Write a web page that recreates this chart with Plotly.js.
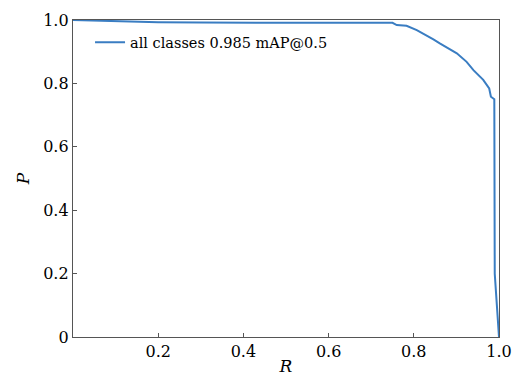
<!DOCTYPE html>
<html><head><meta charset="utf-8">
<script src="https://cdn.plot.ly/plotly-3.0.1.min.js"></script>
<style>html,body{margin:0;padding:0;background:#fff;}#chart{width:517px;height:376px;}</style>
</head><body><div id="chart"></div>
<script>
const recall = [0.0, 0.05, 0.1, 0.2, 0.3, 0.5, 0.7, 0.75, 0.76, 0.783, 0.807, 0.83, 0.846, 0.861, 0.88, 0.901, 0.924, 0.94, 0.963, 0.977, 0.981, 0.987, 0.989, 0.990, 1.0];
const precision = [1.0, 0.998, 0.996, 0.993, 0.992, 0.992, 0.992, 0.991, 0.984, 0.982, 0.968, 0.952, 0.939, 0.926, 0.912, 0.895, 0.868, 0.842, 0.811, 0.784, 0.758, 0.752, 0.75, 0.20, 0.0];
const seriesName = 'all classes 0.985 mAP@0.5';
const xTickVals = [0.2, 0.4, 0.6, 0.8, 1.0];
const xTickText = ['0.2', '0.4', '0.6', '0.8', '1.0'];
const yTickVals = [0, 0.2, 0.4, 0.6, 0.8, 1.0];
const yTickText = ['0', '0.2', '0.4', '0.6', '0.8', '1.0'];

const font = 'DejaVu Serif, serif';
const data = [{
  x: recall, y: precision, type: 'scatter', mode: 'lines', name: seriesName,
  line: {color: '#3a7dc2', width: 2}
}];
const axisCommon = {
  showgrid: false, zeroline: false, showline: true, linecolor: '#555', linewidth: 1.2,
  mirror: true, ticks: 'inside', ticklen: 4, tickcolor: '#555',
  tickfont: {family: font, size: 16, color: '#000'}
};
const layout = {
  width: 517, height: 376,
  margin: {l: 73, r: 18, t: 20, b: 39},
  paper_bgcolor: '#fff', plot_bgcolor: '#fff',
  showlegend: true,
  legend: {x: 0.04, y: 0.98, xanchor: 'left', yanchor: 'top', bgcolor: 'rgba(0,0,0,0)',
    font: {family: font, size: 14.5, color: '#000'}},
  xaxis: Object.assign({}, axisCommon, {range: [0, 1], tickvals: xTickVals, ticktext: xTickText,
    title: {text: '<i>R</i>', font: {family: font, size: 17, color: '#000'}, standoff: 2}}),
  yaxis: Object.assign({}, axisCommon, {range: [0, 1], tickvals: yTickVals, ticktext: yTickText,
    title: {text: '<i>P</i>', font: {family: font, size: 17, color: '#000'}, standoff: 9}})
};
Plotly.newPlot('chart', data, layout, {displayModeBar: false, staticPlot: true});
</script></body></html>
